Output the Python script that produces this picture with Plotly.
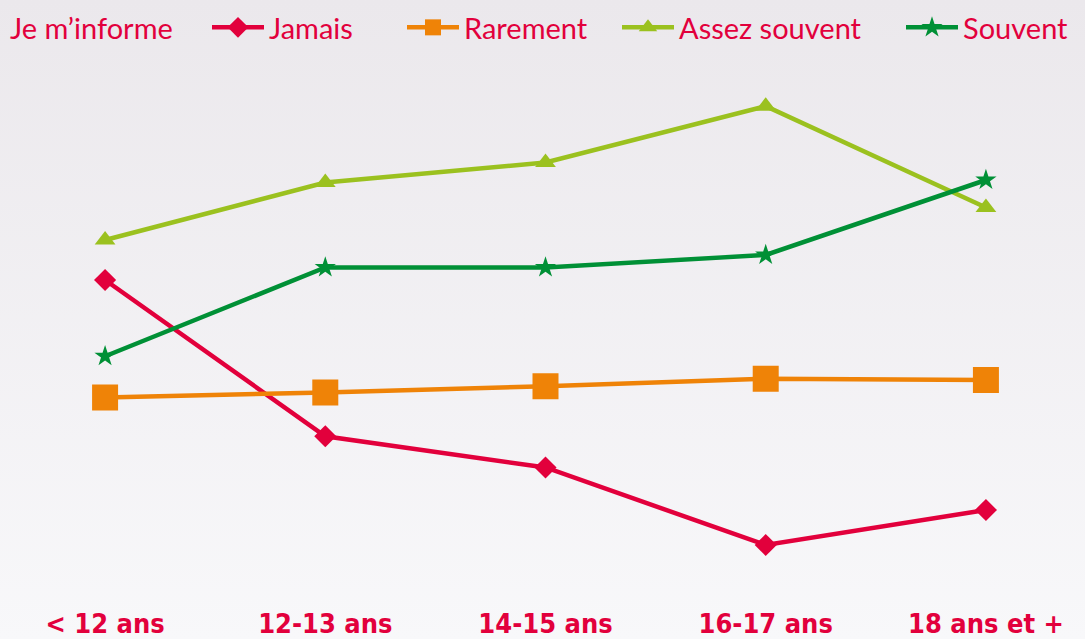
import plotly.graph_objects as go

categories = ["< 12 ans", "12-13 ans", "14-15 ans", "16-17 ans", "18 ans et +"]
jamais = [28.2, 15.7, 13.2, 7.0, 9.8]
rarement = [18.8, 19.2, 19.7, 20.3, 20.2]
assez_souvent = [31.4, 36.0, 37.6, 42.1, 34.0]
souvent = [22.1, 29.2, 29.2, 30.2, 36.2]

RED = "#e2003c"
W, H = 1085, 639
ML, MR, MT, MB = 17, 11, 70, 69
PW, PH = W - ML - MR, H - MT - MB

def pxx(px):
    return (px - ML) / PW

def pxy(py):
    return 1 + (MT - py) / PH

series = [
    ("Jamais", jamais, RED, "diamond", 17, "legend", 207),
    ("Rarement", rarement, "#ef8307", "square", 26, "legend2", 402),
    ("Assez souvent", assez_souvent, "#9bc11f", "triangle-up", 18, "legend3", 617),
    ("Souvent", souvent, "#009036", "star", 16, "legend4", 901),
]

fig = go.Figure()
LEGFONT = dict(color=RED, size=29, family="Lato")
legends = {}
for name, vals, col, sym, size, lg, lx in series:
    fig.add_trace(go.Scatter(
        x=categories, y=vals, name=name, mode="lines+markers",
        line=dict(color=col, width=4.5),
        marker=dict(symbol=sym, size=size, color=col, line=dict(width=0)),
        legend=lg,
    ))
    legends[lg] = dict(orientation="h", xanchor="left", x=pxx(lx), y=pxy(2), yanchor="top",
                       font=LEGFONT, bgcolor="rgba(0,0,0,0)", itemsizing="trace", itemwidth=52)

bg_svg = ("data:image/svg+xml;utf8,<svg xmlns='http://www.w3.org/2000/svg' width='100' height='100' preserveAspectRatio='none'>"
          "<defs><linearGradient id='g' x1='0' y1='0' x2='0' y2='1'>"
          "<stop offset='0' stop-color='%23ebe8ec'/><stop offset='1' stop-color='%23f8f8fa'/>"
          "</linearGradient></defs><rect width='100' height='100' fill='url(%23g)'/></svg>")

fig.update_layout(
    width=W, height=H,
    margin=dict(l=ML, r=MR, t=MT, b=MB, autoexpand=False),
    paper_bgcolor="#f1eff2", plot_bgcolor="rgba(0,0,0,0)",
    showlegend=True,
    **legends,
    annotations=[dict(text="Je m’informe", xref="paper", yref="paper", x=pxx(8), y=pxy(28),
                      xanchor="left", yanchor="middle", showarrow=False, font=LEGFONT)],
    images=[dict(source=bg_svg, xref="paper", yref="paper",
                 x=-ML / PW, y=1 + MT / PH, sizex=W / PW, sizey=H / PH,
                 xanchor="left", yanchor="top", sizing="stretch", layer="below")],
    xaxis=dict(
        type="category", range=[-0.4, 4.4], showgrid=False, zeroline=False,
        showline=False, ticks="", ticklabelstandoff=35, automargin=False,
        tickfont=dict(color=RED, size=27, family="DejaVu Sans Condensed, Liberation Sans Narrow", weight="bold"),
    ),
    yaxis=dict(range=[5, 45], visible=False, showgrid=False, zeroline=False),
)

fig.write_html("out.html", config={"displayModeBar": False},
               post_script="document.body.style.margin='0';document.body.style.padding='0';")
